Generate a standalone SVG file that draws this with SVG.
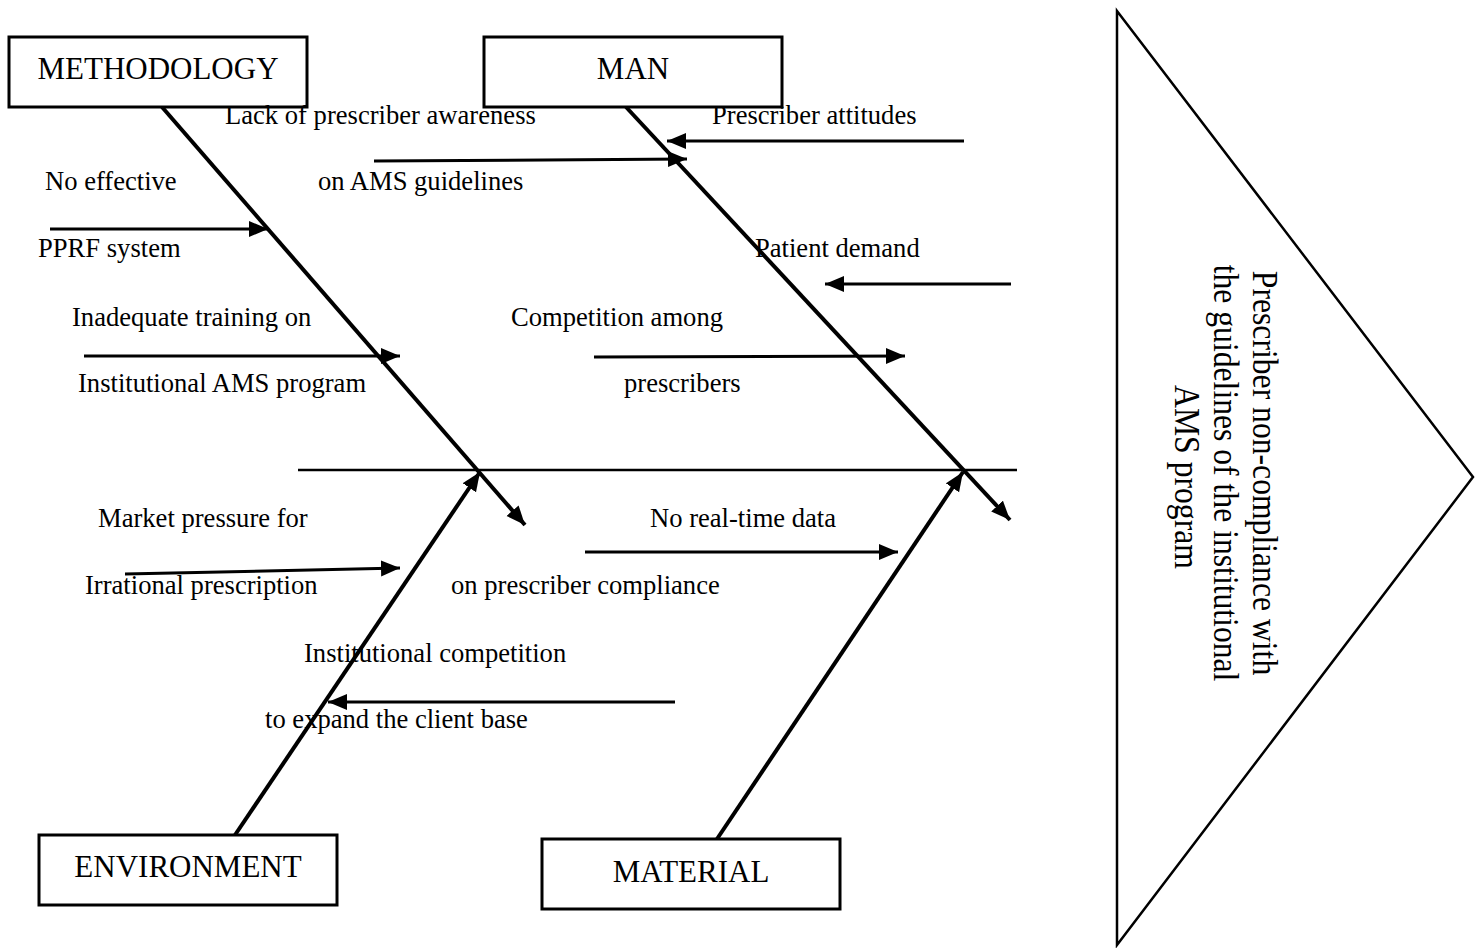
<svg xmlns="http://www.w3.org/2000/svg" width="1479" height="948" viewBox="0 0 1479 948">
<style>
.box{fill:#fff;stroke:#000;stroke-width:3}
.hdr{font-family:"Liberation Serif","Times New Roman",serif;font-size:31px;fill:#000;text-anchor:middle}
.lbl{font-family:"Liberation Serif","Times New Roman",serif;font-size:26.6px;fill:#000}
.bone{stroke:#000;stroke-width:4;fill:none}
.spine{stroke:#000;stroke-width:2.5;fill:none}
.rib{stroke:#000;stroke-width:3;fill:none}
</style>
<defs>
<marker id="ah" markerUnits="userSpaceOnUse" markerWidth="22" markerHeight="18" refX="19" refY="8" orient="auto">
<path d="M0,0 L19,8 L0,16 Z" fill="#000"/>
</marker>
</defs>
<rect width="1479" height="948" fill="#fff"/>
<g id="connectors">
<line class="spine" x1="298" y1="470" x2="1017" y2="470"/>
<line class="bone" x1="162" y1="107" x2="525" y2="525" marker-end="url(#ah)"/>
<line class="bone" x1="626" y1="107" x2="1010" y2="520" marker-end="url(#ah)"/>
<line class="bone" x1="235" y1="835" x2="480" y2="472" marker-end="url(#ah)"/>
<line class="bone" x1="717" y1="839" x2="963" y2="472" marker-end="url(#ah)"/>
<line class="rib" x1="50" y1="229" x2="268" y2="229" marker-end="url(#ah)"/>
<line class="rib" x1="84" y1="356" x2="400" y2="356" marker-end="url(#ah)"/>
<line class="rib" x1="374" y1="161" x2="687" y2="159" marker-end="url(#ah)"/>
<line class="rib" x1="594" y1="357" x2="905" y2="356" marker-end="url(#ah)"/>
<line class="rib" x1="964" y1="141" x2="667" y2="141" marker-end="url(#ah)"/>
<line class="rib" x1="1011" y1="284" x2="825" y2="284" marker-end="url(#ah)"/>
<line class="rib" x1="125" y1="574" x2="400" y2="568" marker-end="url(#ah)"/>
<line class="rib" x1="585" y1="552" x2="898" y2="552" marker-end="url(#ah)"/>
<line class="rib" x1="675" y1="702" x2="328" y2="702" marker-end="url(#ah)"/>
</g>
<g id="methodology">
<rect class="box" x="9" y="37" width="298" height="70"/>
<text class="hdr" x="158" y="79">METHODOLOGY</text>
</g>
<g id="man">
<rect class="box" x="484" y="37" width="298" height="70"/>
<text class="hdr" x="633" y="79">MAN</text>
</g>
<g id="environment">
<rect class="box" x="39" y="835" width="298" height="70"/>
<text class="hdr" x="188" y="877">ENVIRONMENT</text>
</g>
<g id="material">
<rect class="box" x="542" y="839" width="298" height="70"/>
<text class="hdr" x="691" y="882">MATERIAL</text>
</g>
<g id="effect">
<polygon points="1117,11 1473,477 1117,945" fill="#fff" stroke="#000" stroke-width="2.5"/>
<text font-family="Liberation Serif, Times New Roman, serif" font-size="35" text-anchor="middle" transform="translate(1253,477) rotate(90) scale(0.905,1)">
<tspan x="0" y="0">Prescriber non-compliance with</tspan>
<tspan x="0" dy="39">the guidelines of the institutional</tspan>
<tspan x="0" dy="39">AMS program</tspan>
</text>
</g>
<g id="causes">
<text class="lbl" x="225" y="124">Lack of prescriber awareness</text>
<text class="lbl" x="712" y="124">Prescriber attitudes</text>
<text class="lbl" x="45" y="190">No effective</text>
<text class="lbl" x="318" y="190">on AMS guidelines</text>
<text class="lbl" x="38" y="257">PPRF system</text>
<text class="lbl" x="755" y="257">Patient demand</text>
<text class="lbl" x="72" y="326">Inadequate training on</text>
<text class="lbl" x="511" y="326">Competition among</text>
<text class="lbl" x="78" y="392">Institutional AMS program</text>
<text class="lbl" x="624" y="392">prescribers</text>
<text class="lbl" x="98" y="527">Market pressure for</text>
<text class="lbl" x="650" y="527">No real-time data</text>
<text class="lbl" x="85" y="594">Irrational prescription</text>
<text class="lbl" x="451" y="594">on prescriber compliance</text>
<text class="lbl" x="304" y="662">Institutional competition</text>
<text class="lbl" x="265" y="728">to expand the client base</text>
</g>
</svg>
